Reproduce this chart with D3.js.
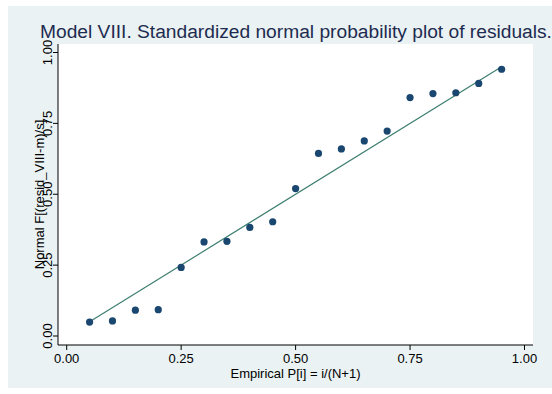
<!DOCTYPE html>
<html>
<head>
<meta charset="utf-8">
<script src="https://cdn.jsdelivr.net/npm/d3@7"></script>
<style>
  body { margin: 0; background: #fff; }
  text { font-family: "Liberation Sans", Arial, sans-serif; }
</style>
</head>
<body>
<script>
// empirical P[i] = i/(N+1), N = 19
var empirical = [0.05, 0.10, 0.15, 0.20, 0.25, 0.30, 0.35, 0.40, 0.45, 0.50,
                 0.55, 0.60, 0.65, 0.70, 0.75, 0.80, 0.85, 0.90, 0.95];
// normal F[(resid_VIII-m)/s]
var normalF = [0.049, 0.053, 0.091, 0.093, 0.242, 0.332, 0.334, 0.383, 0.403, 0.520,
               0.644, 0.660, 0.688, 0.723, 0.841, 0.855, 0.858, 0.891, 0.941];
var tickValues = [0, 0.25, 0.5, 0.75, 1];
var refLine = [0.05, 0.95];

var W = 552, H = 394;
var svg = d3.select("body").append("svg").attr("width", W).attr("height", H);

// graph region
svg.append("rect").attr("x", 8).attr("y", 6).attr("width", W - 8).attr("height", 382)
  .attr("fill", "#eaf2f3");

var plotL = 58, plotR = 533, plotT = 44, plotB = 345;
svg.append("rect").attr("x", plotL).attr("y", plotT)
  .attr("width", plotR - plotL).attr("height", plotB - plotT).attr("fill", "#fff");

var x = d3.scaleLinear().domain([0, 1]).range([66.7, 524.5]);
var y = d3.scaleLinear().domain([0, 1]).range([336, 52.5]);

// axes lines
svg.append("line").attr("x1", plotL).attr("x2", plotR).attr("y1", plotB).attr("y2", plotB)
  .attr("stroke", "#000").attr("stroke-width", 1);
svg.append("line").attr("x1", plotL).attr("x2", plotL).attr("y1", plotT).attr("y2", plotB)
  .attr("stroke", "#000").attr("stroke-width", 1);

// x ticks
var xt = svg.selectAll(".xt").data(tickValues).enter().append("g")
  .attr("transform", function(d) { return "translate(" + x(d) + "," + plotB + ")"; });
xt.append("line").attr("y1", 0).attr("y2", 5).attr("stroke", "#000");
xt.append("text").attr("y", 17.5).attr("text-anchor", "middle").attr("font-size", 13)
  .attr("fill", "#000").text(function(d) { return d3.format(".2f")(d); });

// y ticks
var yt = svg.selectAll(".yt").data(tickValues).enter().append("g")
  .attr("transform", function(d) { return "translate(" + plotL + "," + y(d) + ")"; });
yt.append("line").attr("x1", 0).attr("x2", -5).attr("stroke", "#000");
yt.append("text").attr("transform", "translate(-6,0) rotate(-90)").attr("text-anchor", "middle")
  .attr("font-size", 13).attr("fill", "#000").text(function(d) { return d3.format(".2f")(d); });

// axis titles
svg.append("text").attr("x", (plotL + plotR) / 2).attr("y", 378).attr("text-anchor", "middle")
  .attr("font-size", 13).attr("fill", "#000").text("Empirical P[i] = i/(N+1)");
svg.append("text").attr("transform", "translate(44," + ((plotT + plotB) / 2) + ") rotate(-90)")
  .attr("text-anchor", "middle").attr("font-size", 13).attr("fill", "#000")
  .text("Normal F[(resid_VIII-m)/s]");

// title
svg.append("text").attr("x", 40).attr("y", 38).attr("font-size", 19.2).attr("fill", "#1e2b50")
  .text("Model VIII. Standardized normal probability plot of residuals.");

// reference line
svg.append("line")
  .attr("x1", x(refLine[0])).attr("y1", y(refLine[0]))
  .attr("x2", x(refLine[1])).attr("y2", y(refLine[1]))
  .attr("stroke", "#3d7f70").attr("stroke-width", 1.2);

// points
svg.selectAll("circle").data(empirical).enter().append("circle")
  .attr("cx", function(d) { return x(d); })
  .attr("cy", function(d, i) { return y(normalF[i]); })
  .attr("r", 3.6)
  .attr("fill", "#1a476f");
</script>
</body>
</html>
